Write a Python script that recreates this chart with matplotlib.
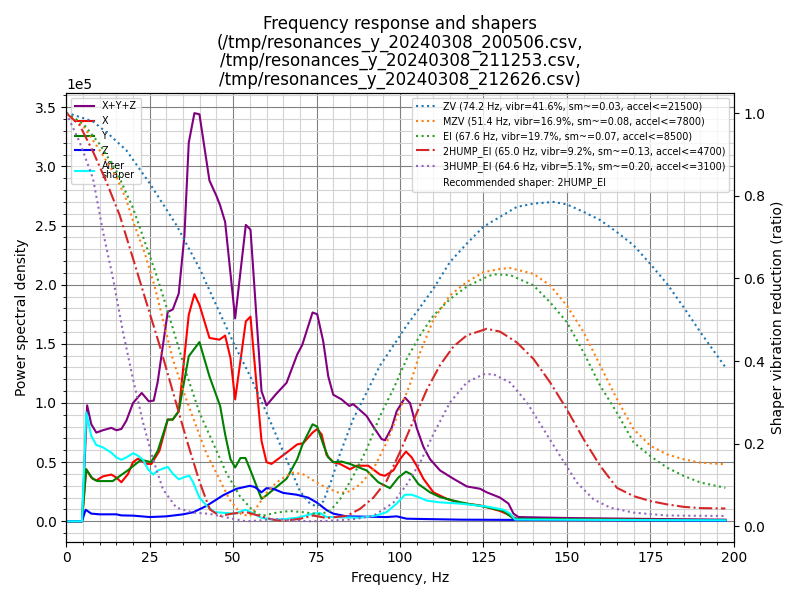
import matplotlib
matplotlib.use("Agg")
import matplotlib.pyplot as plt
import matplotlib.ticker
import matplotlib.font_manager
import numpy as np

MAX_FREQ = 200.

# power spectral density (in units of 1e5), read per series
sum_freqs = [0, 4.7, 6.25, 7.5, 9, 11, 13.5, 15, 16.5, 18, 20, 22.6, 24.7, 26.2, 27.4,
             30.4, 31.9, 33.7, 35.4, 36.7, 38.4, 39.9, 42.9, 45, 46.1, 47.6, 50.6,
             53.8, 55.2, 58.5, 60, 63, 66, 69.2, 70.7, 73.8, 75.2, 77, 78.5, 80, 82.5,
             84.8, 86, 88, 90, 92, 94.5, 95.5, 97.5, 99, 101.5, 103, 105, 107, 109,
             112, 116, 120, 124, 126, 130, 132.5, 134, 135.5, 150, 175, 197.5]
psd_sum = [0, 0, 0.98, 0.82, 0.75, 0.77, 0.79, 0.77, 0.78, 0.85, 1.00, 1.085, 1.015,
           1.02, 1.18, 1.77, 1.79, 1.925, 2.415, 3.2, 3.45, 3.44, 2.88, 2.75, 2.67,
           2.53, 1.715, 2.505, 2.465, 1.10, 0.98, 1.08, 1.17, 1.41, 1.49, 1.765, 1.75,
           1.52, 1.225, 1.07, 1.03, 0.975, 0.99, 0.94, 0.89, 0.80, 0.695, 0.685, 0.79,
           0.93, 1.045, 1.00, 0.79, 0.63, 0.525, 0.43, 0.36, 0.295, 0.275, 0.245, 0.20,
           0.15, 0.065, 0.036, 0.028, 0.02, 0.014]

x_freqs = [0, 4.7, 6.0, 7.5, 9, 11, 13.5, 15, 16.5, 18.5, 20, 21.5, 24, 25.5, 27.9,
           30.4, 31.9, 33.7, 36.7, 38.4, 39.9, 42.9, 45.9, 47.6, 49.2, 50.6, 53.8,
           55.2, 58.5, 60, 61.5, 66, 69.2, 71, 73.8, 75.2, 76.5, 78, 80, 82, 85, 87,
           90.5, 94, 95.5, 98, 100, 101.8, 103.5, 105, 107, 110, 114, 118, 124, 130,
           133, 135, 160, 197.5]
psd_x = [0, 0, 0.44, 0.37, 0.345, 0.38, 0.395, 0.37, 0.33, 0.40, 0.50, 0.53, 0.485,
         0.485, 0.595, 0.86, 0.86, 0.93, 1.745, 1.92, 1.83, 1.55, 1.535, 1.57, 1.38,
         1.03, 1.69, 1.73, 0.68, 0.50, 0.485, 0.58, 0.65, 0.66, 0.75, 0.78, 0.735,
         0.56, 0.50, 0.485, 0.44, 0.47, 0.47, 0.395, 0.385, 0.43, 0.525, 0.59, 0.54,
         0.47, 0.36, 0.245, 0.19, 0.155, 0.135, 0.087, 0.05, 0.02, 0.015, 0.01]

y_freqs = [0, 4.7, 5.9, 7.9, 9.4, 13.9, 16.9, 18.4, 22.4, 25.4, 27.4, 30.4, 31.9,
           33.7, 36.7, 39.9, 42.9, 46.1, 47.6, 49.2, 50.6, 52.2, 53.7, 55.2, 58.5,
           60, 66, 69.2, 70.8, 73.8, 75.2, 77, 78.5, 80, 82.5, 85, 90, 93.5, 97,
           99.5, 101.8, 103.5, 105.5, 109, 112, 116, 120, 126, 131, 134, 160, 197.5]
psd_y = [0, 0, 0.44, 0.36, 0.34, 0.34, 0.40, 0.43, 0.52, 0.50, 0.595, 0.86, 0.86,
         0.93, 1.395, 1.515, 1.225, 0.975, 0.735, 0.525, 0.455, 0.535, 0.535, 0.43,
         0.19, 0.22, 0.36, 0.525, 0.65, 0.82, 0.80, 0.65, 0.54, 0.50, 0.505, 0.485,
         0.43, 0.33, 0.28, 0.37, 0.42, 0.395, 0.315, 0.245, 0.205, 0.175, 0.15,
         0.12, 0.087, 0.022, 0.015, 0.01]

z_freqs = [0, 4.7, 5.8, 7.5, 10, 15, 16.5, 20, 25, 30, 35, 38, 42, 47, 51, 55,
           56.5, 58.5, 60, 62, 65, 69, 72.5, 75, 78, 80, 84, 96, 99, 102, 118, 150,
           197.5]
psd_z = [0, 0, 0.098, 0.065, 0.059, 0.059, 0.05, 0.048, 0.036, 0.042, 0.059, 0.076,
         0.13, 0.22, 0.275, 0.30, 0.29, 0.245, 0.28, 0.275, 0.24, 0.225, 0.20, 0.16,
         0.095, 0.065, 0.042, 0.036, 0.042, 0.022, 0.014, 0.01, 0.005]

after_freqs = [0, 4.7, 6.0, 7.5, 9, 11, 13.5, 15, 16.5, 18, 20, 21.5, 23, 24.5, 26,
               27.5, 30.4, 32, 33.7, 35.5, 36.9, 38, 39.9, 42, 44.4, 48, 50.6, 53.7,
               55.2, 58.5, 62, 66, 69.2, 74, 76, 78, 80, 88, 93, 96, 99, 101.5, 103.5,
               105.5, 108, 112, 118, 126, 131, 133, 134.5, 160, 197.5]
psd_after = [0, 0, 0.92, 0.72, 0.645, 0.625, 0.58, 0.54, 0.52, 0.54, 0.575, 0.555,
             0.52, 0.44, 0.395, 0.43, 0.46, 0.40, 0.355, 0.375, 0.385, 0.33, 0.20,
             0.135, 0.078, 0.07, 0.065, 0.098, 0.078, 0.03, 0.014, 0.02, 0.03, 0.065,
             0.07, 0.036, 0.036, 0.03, 0.05, 0.078, 0.15, 0.225, 0.225, 0.205, 0.175,
             0.16, 0.15, 0.125, 0.098, 0.065, 0.015, 0.012, 0.008]

# shaper vibration reduction ratios
zv_freqs = [0, 2, 8, 13, 18, 25, 33, 40, 45, 50.5, 55, 60, 66, 70, 73, 75, 77, 79,
            82, 86, 90, 94, 98, 102, 106, 110, 115, 120, 125, 130, 135, 140, 146,
            150, 155, 160, 165, 170, 175, 180, 185, 190, 197.5]
zv_vals = [1.0, 0.996, 0.98, 0.947, 0.91, 0.83, 0.729, 0.623, 0.534, 0.437, 0.365,
           0.275, 0.162, 0.085, 0.055, 0.048, 0.06, 0.10, 0.175, 0.26, 0.324, 0.389,
           0.437, 0.486, 0.53, 0.575, 0.64, 0.684, 0.725, 0.749, 0.773, 0.781, 0.785,
           0.779, 0.761, 0.741, 0.712, 0.68, 0.635, 0.587, 0.53, 0.47, 0.385]

mzv_freqs = [0, 5, 10, 15, 18, 20.4, 23.4, 26.4, 28.9, 31.9, 35.9, 38.9, 41.9, 45.9,
             48.9, 52.4, 55, 57, 60, 63, 66, 68, 71, 75, 78, 82, 85, 88, 92, 96, 100,
             103, 106, 110, 115, 120, 125, 130, 133, 140, 145, 150, 155, 160, 165,
             170, 175, 180, 185, 190, 197.5]
mzv_vals = [1.0, 0.97, 0.91, 0.846, 0.79, 0.729, 0.664, 0.583, 0.502, 0.405, 0.308,
            0.243, 0.178, 0.114, 0.065, 0.029, 0.025, 0.045, 0.081, 0.106, 0.122,
            0.13, 0.126, 0.106, 0.093, 0.08, 0.085, 0.101, 0.138, 0.203, 0.283,
            0.344, 0.42, 0.50, 0.559, 0.591, 0.615, 0.623, 0.625, 0.611, 0.583,
            0.534, 0.47, 0.389, 0.308, 0.235, 0.195, 0.174, 0.162, 0.154, 0.15]

ei_freqs = [0, 5, 10, 15, 20, 23.9, 26.9, 29.9, 32.9, 36, 39.9, 43.9, 47.9, 52, 56,
            58.5, 63, 67, 71, 76, 79, 82, 86, 90, 94, 98, 102, 106, 110, 115, 120,
            125, 128, 133, 140, 145, 150, 155, 160, 165, 170, 175, 180, 185, 190, 197.5]
ei_vals = [1.0, 0.975, 0.925, 0.86, 0.77, 0.68, 0.611, 0.534, 0.453, 0.37, 0.275,
           0.203, 0.13, 0.073, 0.037, 0.025, 0.033, 0.037, 0.034, 0.029, 0.037, 0.065,
           0.122, 0.186, 0.267, 0.332, 0.405, 0.462, 0.51, 0.55, 0.58, 0.60, 0.61,
           0.608, 0.583, 0.542, 0.494, 0.421, 0.34, 0.275, 0.203, 0.17, 0.142, 0.122,
           0.106, 0.093]

hump2_freqs = [0, 4, 8, 12, 16, 20, 24, 28, 32, 36, 40, 43, 46, 50, 54, 58, 62, 65,
               70, 74, 78, 84, 88, 92, 96, 100, 104, 108, 112, 116, 120, 126, 130,
               135, 140, 145, 150, 155, 160, 165, 170, 175, 180, 185, 190, 197.5]
hump2_vals = [1.0, 0.971, 0.907, 0.834, 0.753, 0.648, 0.542, 0.437, 0.324, 0.211,
              0.106, 0.041, 0.025, 0.031, 0.034, 0.025, 0.016, 0.013, 0.018, 0.026,
              0.02, 0.025, 0.042, 0.069, 0.11, 0.18, 0.255, 0.33, 0.39, 0.435, 0.462,
              0.478, 0.471, 0.445, 0.405, 0.348, 0.283, 0.211, 0.146, 0.093, 0.073,
              0.061, 0.053, 0.047, 0.044, 0.043]

hump3_freqs = [0, 4, 8, 11, 14, 17, 20, 23, 26, 29, 33, 38, 43, 50, 54, 58, 62, 68,
               73, 78, 86, 92, 98, 102, 106, 110, 115, 120, 125, 128, 133, 138, 143,
               148, 153, 158, 163, 170, 180, 197.5]
hump3_vals = [1.0, 0.93, 0.842, 0.713, 0.60, 0.47, 0.356, 0.251, 0.162, 0.089, 0.045,
              0.033, 0.03, 0.018, 0.012, 0.014, 0.018, 0.014, 0.012, 0.013, 0.017,
              0.025, 0.057, 0.101, 0.154, 0.223, 0.30, 0.348, 0.368, 0.368, 0.348,
              0.30, 0.235, 0.17, 0.106, 0.065, 0.045, 0.033, 0.026, 0.025]

shapers = [
    ("ZV", 74.2, 0.416, 0.03, 21500, zv_freqs, zv_vals),
    ("MZV", 51.4, 0.169, 0.08, 7800, mzv_freqs, mzv_vals),
    ("EI", 67.6, 0.197, 0.07, 8500, ei_freqs, ei_vals),
    ("2HUMP_EI", 65.0, 0.092, 0.13, 4700, hump2_freqs, hump2_vals),
    ("3HUMP_EI", 64.6, 0.051, 0.20, 3100, hump3_freqs, hump3_vals),
]
selected_shaper = "2HUMP_EI"
lognames = ["/tmp/resonances_y_20240308_200506.csv",
            "/tmp/resonances_y_20240308_211253.csv",
            "/tmp/resonances_y_20240308_212626.csv"]


def scaled(vals):
    return np.array(vals) * 1e5


fontP = matplotlib.font_manager.FontProperties()
fontP.set_size('x-small')

fig, ax = plt.subplots(figsize=(8, 6))
ax.set_xlabel('Frequency, Hz')
ax.set_xlim([0, MAX_FREQ])
ax.set_ylabel('Power spectral density')

ax.plot(sum_freqs, scaled(psd_sum), label='X+Y+Z', color='purple')
ax.plot(x_freqs, scaled(psd_x), label='X', color='red')
ax.plot(y_freqs, scaled(psd_y), label='Y', color='green')
ax.plot(z_freqs, scaled(psd_z), label='Z', color='blue')

ax.set_title("Frequency response and shapers\n(" + ",\n".join(lognames) + ")",
             linespacing=1.02)
ax.xaxis.set_minor_locator(matplotlib.ticker.MultipleLocator(5))
ax.yaxis.set_minor_locator(matplotlib.ticker.AutoMinorLocator())
ax.ticklabel_format(axis='y', style='scientific', scilimits=(0, 0))
ax.grid(which='major', color='grey')
ax.grid(which='minor', color='lightgrey')

ax2 = ax.twinx()
ax2.set_ylabel('Shaper vibration reduction (ratio)')
for name, freq, vibr, sm, accel, fr, vals in shapers:
    label = "%s (%.1f Hz, vibr=%.1f%%, sm~=%.2f, accel<=%.f)" % (
        name, freq, vibr * 100., sm, accel)
    linestyle = 'dashdot' if name == selected_shaper else 'dotted'
    ax2.plot(fr, vals, label=label, linestyle=linestyle)
ax.plot(after_freqs, scaled(psd_after), label='After\nshaper', color='cyan')
ax2.plot([], [], ' ', label="Recommended shaper: %s" % selected_shaper)

leg1 = ax.legend(loc='upper left', prop=fontP)
leg2 = ax2.legend(loc='upper right', prop=fontP)
for t in leg1.get_texts():
    t.set_linespacing(0.9)

fig.tight_layout()
fig.savefig("out.png", dpi=100)
plt.close(fig)
